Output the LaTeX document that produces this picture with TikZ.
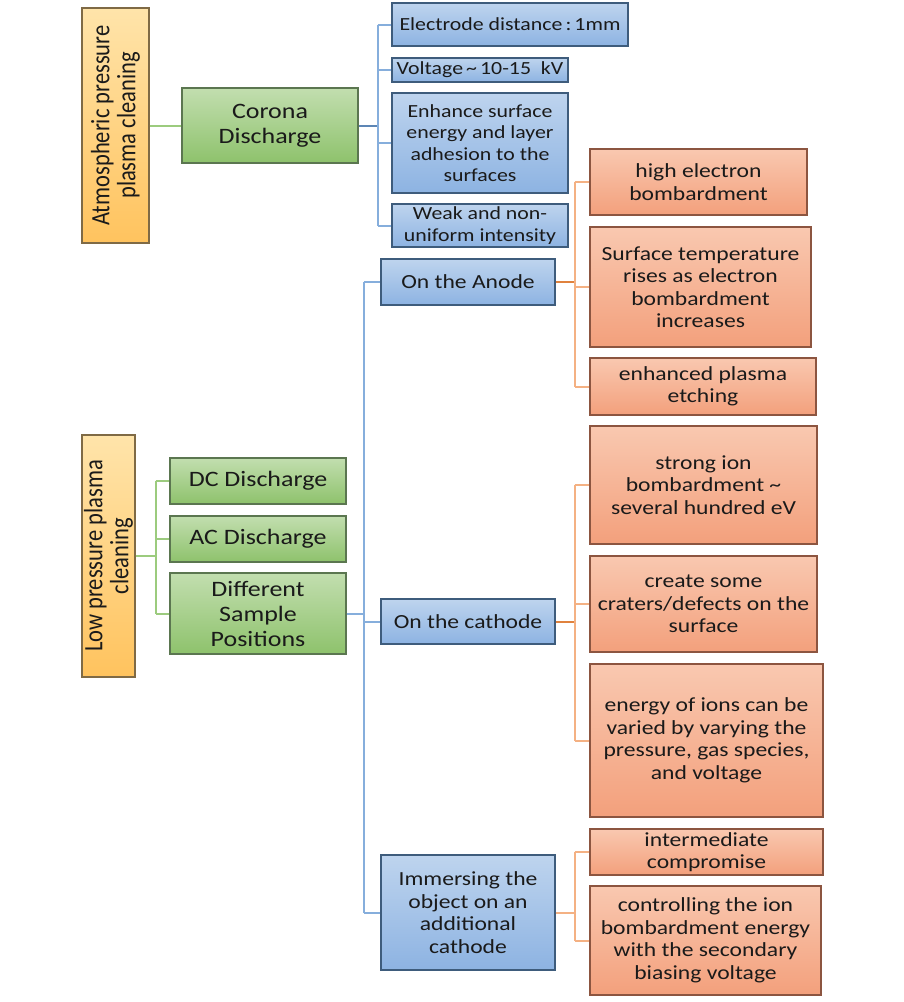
\documentclass[tikz,border=0pt]{standalone}
\usepackage{fontspec}
\setmainfont{Carlito}[FakeStretch=1.18]
\newfontfamily\rotfont{Carlito}[FakeStretch=0.85]
\definecolor{bluetop}{HTML}{BED4EE}
\definecolor{bluebot}{HTML}{8DB3E2}
\definecolor{blueedge}{HTML}{3E5C7C}
\definecolor{greentop}{HTML}{C2DEAF}
\definecolor{greenbot}{HTML}{8EC26C}
\definecolor{greenedge}{HTML}{5B7650}
\definecolor{orangetop}{HTML}{F9C8B0}
\definecolor{orangebot}{HTML}{F3A07C}
\definecolor{orangeedge}{HTML}{8C5540}
\definecolor{yellowtop}{HTML}{FFE4AA}
\definecolor{yellowbot}{HTML}{FFC35E}
\definecolor{yellowedge}{HTML}{7F6A45}
\definecolor{blueline}{HTML}{86AEDC}
\definecolor{bluelinedark}{HTML}{5D86B5}
\definecolor{orangeline}{HTML}{F4B183}
\definecolor{orangelinedark}{HTML}{E0823D}
\definecolor{greenline}{HTML}{9CCB7E}
\definecolor{txt}{HTML}{1A1A1A}
\tikzset{
  box/.style={draw, line width=1.2pt, inner sep=2pt, align=center, text=txt},
  bluebox/.style={box, draw=blueedge, top color=bluetop, bottom color=bluebot},
  greenbox/.style={box, draw=greenedge, top color=greentop, bottom color=greenbot,
    font=\fontsize{22}{25}\selectfont},
  orangebox/.style={box, draw=orangeedge, top color=orangetop, bottom color=orangebot,
    font=\fontsize{20}{22.5}\selectfont},
  yellowbox/.style={box, draw=yellowedge, top color=yellowtop, bottom color=yellowbot,
    rotate=90, font=\rotfont\fontsize{26.5}{26}\selectfont},
  smallblue/.style={bluebox, font=\fontsize{18.5}{21.5}\selectfont},
  midblue/.style={bluebox, font=\fontsize{20}{22.7}\selectfont},
  bline/.style={draw=blueline, line width=2pt},
  bdline/.style={draw=bluelinedark, line width=2pt},
  oline/.style={draw=orangeline, line width=2pt},
  odline/.style={draw=orangelinedark, line width=2pt},
  gline/.style={draw=greenline, line width=2pt},
  sz/.style n args={2}{minimum width=#1pt, minimum height=#2pt},
}
\begin{document}
\begin{tikzpicture}[x=1pt, y=-1pt]
\useasboundingbox[fill=white] (0,0) rectangle (904,1002);

% ---------- Atmospheric pressure branch ----------
\node[yellowbox, sz={235}{67}] (atm) at (115.5,125.5) {Atmospheric pressure\\plasma cleaning};
\node[greenbox, sz={176}{75}] (cor) at (270,125.5) {Corona\\Discharge};
\node[smallblue, sz={236}{43}] (e1) at (510,24.5) {Electrode distance\,:\,1mm};
\node[smallblue, sz={176}{24}, inner sep=0pt] (e2) at (480,70) {Voltage\,\textasciitilde\,10-15\ \ kV};
\node[smallblue, sz={176}{100}] (e3) at (480,143) {Enhance surface\\energy and layer\\adhesion to the\\surfaces};
\node[smallblue, sz={176}{43}] (e4) at (480,225.5) {Weak and non-\\uniform intensity};

\draw[gline] (atm.south) -- (cor.west);
\draw[bdline] (cor.east) -- ++(19,0) coordinate (cb);
\draw[bline] (cb |- e1.west) -- (cb |- e4.west);
\foreach \n in {e1,e2,e3,e4} \draw[bline] (cb |- \n.west) -- (\n.west);

% ---------- Low pressure branch ----------
\node[yellowbox, sz={242}{53}] (low) at (108.5,556) {Low pressure plasma\\cleaning};
\node[greenbox, sz={176}{46}] (dc) at (258,481) {DC Discharge};
\node[greenbox, sz={176}{46}] (ac) at (258,539) {AC Discharge};
\node[greenbox, sz={176}{81}] (ds) at (258,613.5) {Different\\Sample\\Positions};

\draw[gline] (low.south) -- ++(20,0) coordinate (gb);
\draw[gline] (gb |- dc.west) -- (gb |- ds.west);
\foreach \n in {dc,ac,ds} \draw[gline] (gb |- \n.west) -- (\n.west);

% ---------- Sample positions ----------
\node[midblue, sz={174}{46}] (an) at (468,282) {On the Anode};
\node[midblue, sz={174}{45}] (ca) at (468,621.5) {On the cathode};
\node[midblue, sz={174}{115}] (im) at (468,912.5) {Immersing the\\object on an\\additional\\cathode};

\coordinate (vb) at (364,282);
\draw[bline] (vb |- an.west) -- (vb |- im.west);
\foreach \n in {an,ca,im} \draw[bline] (vb |- \n.west) -- (\n.west);
\draw[bline] (ds.east) -- (ds.east -| vb);

% anode details
\node[orangebox, sz={217}{66}] (o1) at (698.5,182) {high electron\\bombardment};
\node[orangebox, sz={221}{120}] (o2) at (700.5,287) {Surface temperature\\rises as electron\\bombardment\\increases};
\node[orangebox, sz={226}{57}] (o3) at (703,386.5) {enhanced plasma\\etching};

\draw[odline] (an.east) -- ++(19,0) coordinate (oa);
\draw[oline] (oa |- o1.west) -- (oa |- o3.west);
\foreach \n in {o1,o2,o3} \draw[oline] (oa |- \n.west) -- (\n.west);

% cathode details
\node[orangebox, sz={227}{118}] (o4) at (703.5,485) {strong ion\\bombardment \textasciitilde\\several hundred eV};
\node[orangebox, sz={227}{96}] (o5) at (703.5,604) {create some\\craters/defects on the\\surface};
\node[orangebox, sz={233}{153}] (o6) at (706.5,740.5) {energy of ions can be\\varied by varying the\\pressure, gas species,\\and voltage};

\draw[odline] (ca.east) -- ++(19,0) coordinate (oc);
\draw[oline] (oc |- o4.west) -- (oc |- o6.west);
\foreach \n in {o4,o5,o6} \draw[oline] (oc |- \n.west) -- (\n.west);

% immersing details
\node[orangebox, sz={233}{46}, inner sep=0pt] (o7) at (706.5,852) {intermediate\\compromise};
\node[orangebox, sz={231}{109}] (o8) at (705.5,940.5) {controlling the ion\\bombardment energy\\with the secondary\\biasing voltage};

\draw[oline] (im.east) -- ++(19,0) coordinate (oi);
\draw[oline] (oi |- o7.west) -- (oi |- o8.west);
\foreach \n in {o7,o8} \draw[oline] (oi |- \n.west) -- (\n.west);
\end{tikzpicture}
\end{document}
